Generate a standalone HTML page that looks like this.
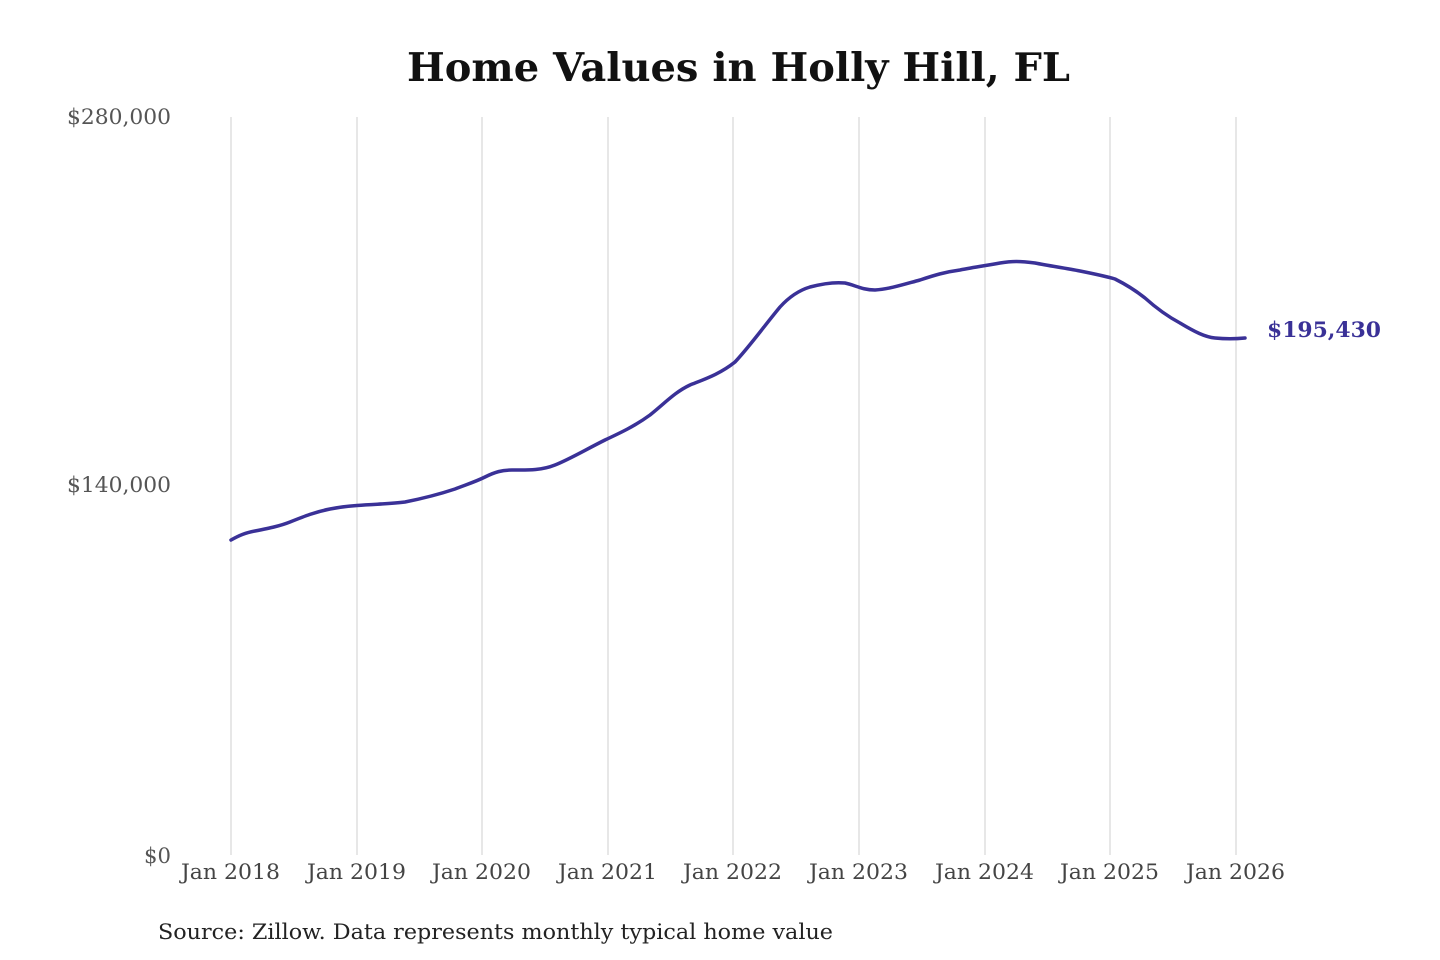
<!DOCTYPE html>
<html><head><meta charset="utf-8"><style>
html,body{margin:0;padding:0;background:#fff;width:1440px;height:960px;overflow:hidden}
svg{display:block}
</style></head><body>
<svg width="1440" height="960" viewBox="0 0 1440 960" xmlns="http://www.w3.org/2000/svg" font-family="'DejaVu Serif','Liberation Serif',serif">
<rect width="1440" height="960" fill="#fff"/>
<text x="407" y="81" font-size="39" font-weight="bold" fill="#111" textLength="663" lengthAdjust="spacingAndGlyphs">Home Values in Holly Hill, FL</text>
<g stroke="#cfcfcf" stroke-width="1">
<line x1="231" y1="117" x2="231" y2="855"/>
<line x1="357" y1="117" x2="357" y2="855"/>
<line x1="482" y1="117" x2="482" y2="855"/>
<line x1="608" y1="117" x2="608" y2="855"/>
<line x1="733" y1="117" x2="733" y2="855"/>
<line x1="859" y1="117" x2="859" y2="855"/>
<line x1="985" y1="117" x2="985" y2="855"/>
<line x1="1110" y1="117" x2="1110" y2="855"/>
<line x1="1236" y1="117" x2="1236" y2="855"/>
</g>
<g font-size="21" fill="#555">
<text x="67" y="124" textLength="104" lengthAdjust="spacingAndGlyphs">$280,000</text>
<text x="67" y="492" textLength="104" lengthAdjust="spacingAndGlyphs">$140,000</text>
<text x="144" y="863" textLength="27" lengthAdjust="spacingAndGlyphs">$0</text>
</g>
<g font-size="21" fill="#444">
<text x="181" y="879" textLength="99" lengthAdjust="spacingAndGlyphs">Jan 2018</text>
<text x="307" y="879" textLength="99" lengthAdjust="spacingAndGlyphs">Jan 2019</text>
<text x="432" y="879" textLength="99" lengthAdjust="spacingAndGlyphs">Jan 2020</text>
<text x="558" y="879" textLength="99" lengthAdjust="spacingAndGlyphs">Jan 2021</text>
<text x="683" y="879" textLength="99" lengthAdjust="spacingAndGlyphs">Jan 2022</text>
<text x="809" y="879" textLength="99" lengthAdjust="spacingAndGlyphs">Jan 2023</text>
<text x="935" y="879" textLength="99" lengthAdjust="spacingAndGlyphs">Jan 2024</text>
<text x="1060" y="879" textLength="99" lengthAdjust="spacingAndGlyphs">Jan 2025</text>
<text x="1186" y="879" textLength="99" lengthAdjust="spacingAndGlyphs">Jan 2026</text>
</g>
<path fill="none" stroke="#3a3197" stroke-width="3.5" stroke-linejoin="round" stroke-linecap="round"
d="M231,540 C240,535 245,533 255,531 C270,528 280,526 290,522 C305,516 315,512 330,509 C340,507 350,506 357,505.5 C375,504 390,504 405,502 C420,499 440,494 455,489 C465,485 475,482 485,477 C495,472 502,470 512,470 C525,470 540,471 555,465 C570,459 585,450 605,440 C620,433 635,426 650,415 C665,403 675,392 690,385 C705,379 720,374 735,362 C750,346 765,325 780,307 C790,296 800,290 810,287 C825,283 835,282 845,283 C855,285 862,290 875,290 C890,289 905,284 920,280 C935,275 945,272 960,270 C975,267 990,265 1000,263 C1012,261 1020,261 1035,263 C1050,266 1065,268 1080,271 C1095,274 1105,276 1115,279 C1125,284 1135,290 1145,298 C1155,307 1165,315 1180,323 C1195,332 1205,337 1215,338 C1225,339 1235,339 1245,338"/>
<text x="1267" y="337" font-size="21" font-weight="bold" fill="#3a3197" textLength="114" lengthAdjust="spacingAndGlyphs">$195,430</text>
<text x="158" y="939" font-size="21" fill="#222" textLength="675" lengthAdjust="spacingAndGlyphs">Source: Zillow. Data represents monthly typical home value</text>
</svg>
</body></html>
